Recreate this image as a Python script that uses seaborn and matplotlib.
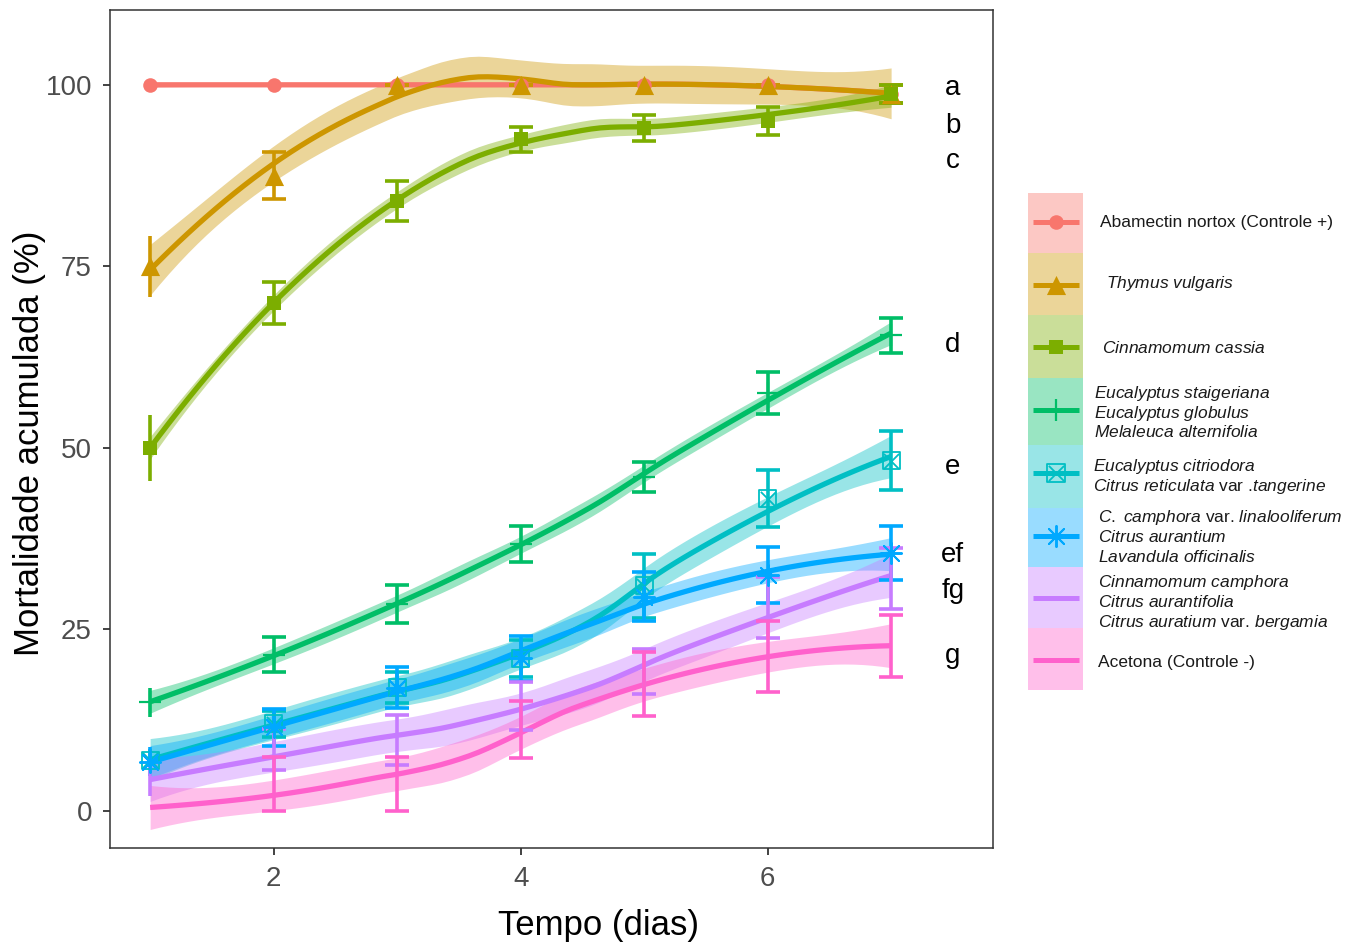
import math
import numpy as np
import pandas as pd
import matplotlib
matplotlib.use("Agg")
import matplotlib.pyplot as plt
import seaborn as sns
from matplotlib.patches import Rectangle
from matplotlib.lines import Line2D

sns.set_theme(style="white")
plt.rcParams["font.family"] = ["Liberation Sans", "DejaVu Sans"]
plt.rcParams["mathtext.fontset"] = "custom"
plt.rcParams["mathtext.rm"] = "Liberation Sans"
plt.rcParams["mathtext.it"] = "Liberation Sans:italic"

# ---------------------------------------------------------------- dados
dias = [1, 2, 3, 4, 5, 6, 7]

# mortalidade média acumulada (%) por tratamento
abamectin = [100, 100, 100, 100, 100, 100, 98.75]
thymus = [75, 87.5, 100, 100, 100, 100, 98.75]
cassia = [50, 70, 84, 92.5, 94, 95, 98.75]
eucalyptus = [15, 21.5, 28.5, 36.75, 46, 57.5, 65.5]
citriodora = [7, 12, 17, 21, 31, 43, 48.25]
camphora_lin = [6.75, 11.5, 17, 21, 29.5, 32.5, 35.5]
camphora = [4, 8.5, 9.75, 14.5, 19.25, 28, 32]
acetona = [0, 3.75, 3.75, 11.25, 17.5, 21.25, 22.75]

# erro padrão da média
abamectin_ep = [0, 0, 0, 0, 0, 0, 1.25]
thymus_ep = [4.2, 3.2, 0, 0, 0, 0, 1.25]
cassia_ep = [4.5, 2.9, 2.7, 1.75, 1.8, 1.9, 1.25]
eucalyptus_ep = [2, 2.4, 2.6, 2.5, 2.1, 2.9, 2.4]
citriodora_ep = [1.5, 1.8, 2.2, 2.5, 4.4, 3.9, 4.1]
camphora_lin_ep = [2, 2.5, 2.8, 3.1, 3.4, 3.8, 3.7]
camphora_ep = [2, 2.8, 3.4, 3.3, 3.1, 4.2, 4.2]
acetona_ep = [0, 3.75, 3.75, 3.9, 4.4, 4.9, 4.3]

medias = [abamectin, thymus, cassia, eucalyptus, citriodora,
          camphora_lin, camphora, acetona]
erros = [abamectin_ep, thymus_ep, cassia_ep, eucalyptus_ep, citriodora_ep,
         camphora_lin_ep, camphora_ep, acetona_ep]

cores = ["#F8766D", "#CD9600", "#7CAE00", "#00BE67",
         "#00BFC4", "#00A9FF", "#C77CFF", "#FF61CC"]
marcadores = ["circulo", "triangulo", "quadrado", "mais", "quadrado_x",
              "asterisco", None, None]

rotulos = [
    ["Abamectin nortox (Controle +)"],
    [r"$\mathit{Thymus\ vulgaris}$"],
    [r"$\mathit{Cinnamomum\ cassia}$"],
    [r"$\mathit{Eucalyptus\ staigeriana}$", r"$\mathit{Eucalyptus\ globulus}$",
     r"$\mathit{Melaleuca\ alternifolia}$"],
    [r"$\mathit{Eucalyptus\ citriodora}$",
     r"$\mathit{Citrus\ reticulata}$ var .$\mathit{tangerine}$"],
    [r"$\mathit{C.\ camphora}$ var. $\mathit{linalooliferum}$",
     r"$\mathit{Citrus\ aurantium}$", r"$\mathit{Lavandula\ officinalis}$"],
    [r"$\mathit{Cinnamomum\ camphora}$", r"$\mathit{Citrus\ aurantifolia}$",
     r"$\mathit{Citrus\ auratium}$ var. $\mathit{bergamia}$"],
    ["Acetona (Controle -)"],
]

letras = ["a", "b", "c", "d", "e", "ef", "fg", "g"]
letras_y = [99.5, 94.3, 89.5, 64.1, 47.4, 35.2, 30.3, 21.3]


# ---------------------------------------------------------------- loess
def loess_pesos(x, x_aval, span=0.75):
    """Matriz de pesos do ajuste local quadrático (vizinhança tricúbica)."""
    n = len(x)
    q = int(np.floor(n * span))
    L = np.zeros((len(x_aval), n))
    for k, x0 in enumerate(x_aval):
        d = np.abs(x - x0)
        ds = np.sort(d)
        h = (ds[q - 1] + ds[q]) / 2 if q < n else ds[-1]
        w = np.clip(1 - (d / h) ** 3, 0, None) ** 3
        X = np.column_stack([np.ones(n), x - x0, (x - x0) ** 2])
        XtW = X.T * w
        L[k] = np.linalg.solve(XtW @ X, XtW)[0]
    return L


def suavizar(x, y, grade, z=1.96):
    x = np.asarray(x, float)
    y = np.asarray(y, float)
    n = len(x)
    Lf = loess_pesos(x, x)
    resid = y - Lf @ y
    M = np.eye(n) - Lf
    d1 = np.trace(M.T @ M)
    sigma = math.sqrt(resid @ resid / d1)
    Lg = loess_pesos(x, grade)
    ajuste = Lg @ y
    ep = sigma * np.sqrt((Lg ** 2).sum(axis=1))
    return ajuste, ajuste - z * ep, ajuste + z * ep


# ---------------------------------------------------------------- figura
W, H = 1359, 946
fig = plt.figure(figsize=(W / 100, H / 100), dpi=100)
fig.patch.set_facecolor("white")
ax = fig.add_axes([110 / W, 1 - 848 / H, (993 - 110) / W, (848 - 10) / H])
ax.set_facecolor("white")

grade = np.linspace(min(dias), max(dias), 80)

# curvas suavizadas com intervalo de confiança
for media, cor in zip(medias, cores):
    ajuste, inf, sup = suavizar(dias, media, grade)
    ax.fill_between(grade, inf, sup, color=cor, alpha=0.4, linewidth=0,
                    zorder=2)
    sns.lineplot(x=grade, y=ajuste, color=cor, linewidth=3.8, ax=ax,
                 zorder=3, solid_capstyle="butt")

# barras de erro
for media, ep, cor in zip(medias, erros, cores):
    ax.errorbar(dias[1:], media[1:], yerr=ep[1:], fmt="none", ecolor=cor,
                elinewidth=2.6, capsize=8.5, capthick=2.6, zorder=4)
    if ep[0] > 0:
        ax.errorbar(dias[:1], media[:1], yerr=ep[:1], fmt="none", ecolor=cor,
                    elinewidth=2.6, capsize=0, zorder=4)


def desenhar_marcador(alvo, x, y, tipo, cor, escala=1.0):
    if tipo is None:
        return
    kw = dict(x=x, y=y, ax=alvo, legend=False, zorder=5, color=cor)
    if tipo == "circulo":
        sns.scatterplot(marker="o", s=110 * escala, linewidth=0, **kw)
    elif tipo == "triangulo":
        sns.scatterplot(marker="^", s=190 * escala, linewidth=0, **kw)
    elif tipo == "quadrado":
        sns.scatterplot(marker="s", s=90 * escala, linewidth=0, **kw)
    elif tipo == "mais":
        sns.scatterplot(marker="+", s=260 * escala, linewidth=1.6, **kw)
    elif tipo == "quadrado_x":
        sns.scatterplot(marker="s", s=150 * escala, facecolor="none",
                        edgecolor=cor, linewidth=1.3, x=x, y=y, ax=alvo,
                        legend=False, zorder=5)
        sns.scatterplot(marker="x", s=120 * escala, linewidth=1.3, **kw)
    elif tipo == "asterisco":
        sns.scatterplot(marker=(8, 2, 0), s=230 * escala, linewidth=1.4,
                        edgecolor=cor, **kw)


for media, cor, tipo in zip(medias, cores, marcadores):
    desenhar_marcador(ax, dias, media, tipo, cor)

# letras de significância
for letra, yl in zip(letras, letras_y):
    ax.text(7.5, yl, letra, fontsize=20, ha="center", va="center",
            color="black", zorder=6)

ax.set_xlim(0.675, 7.825)
ax.set_ylim(-5.1, 110.3)
ax.set_xticks([2, 4, 6])
ax.set_yticks([0, 25, 50, 75, 100])
ax.tick_params(axis="both", which="major", length=5, width=1.3,
               color="#333333", labelsize=20, labelcolor="#4D4D4D", pad=8,
               bottom=True, left=True)
for sp in ax.spines.values():
    sp.set_color("#333333")
    sp.set_linewidth(1.1)
ax.grid(False)
ax.set_xlabel("")
ax.set_ylabel("")

fig.text(598 / W, 1 - 925 / H, "Tempo (dias)", fontsize=25, ha="center",
         va="center", color="black")
fig.text(30 / W, 1 - 443 / H, "Mortalidade acumulada (%)", fontsize=25,
         ha="center", va="center", rotation=90, color="black")

# ---------------------------------------------------------------- legenda
lg = fig.add_axes([0, 0, 1, 1], facecolor="none")
lg.set_xlim(0, W)
lg.set_ylim(H, 0)
lg.axis("off")

limites = [193, 253, 315, 378, 445, 508, 567, 628, 690]
centros = [222, 285, 347, 410, 473, 536, 598, 660]
texto_x = [1100, 1106, 1102, 1094, 1093, 1098, 1098, 1098]
linhas_y = [[222], [283], [348], [393, 413, 432], [466, 486],
            [517, 537, 557], [582, 602, 622], [662]]

for i, cor in enumerate(cores):
    lg.add_patch(Rectangle((1028, limites[i]), 55, limites[i + 1] - limites[i],
                           facecolor=cor, alpha=0.4, linewidth=0))
    lg.add_line(Line2D([1033, 1079], [centros[i], centros[i]], color=cor,
                       linewidth=3.6, solid_capstyle="butt"))
    desenhar_marcador(lg, [1056], [centros[i]], marcadores[i], cor, escala=1.0)
    for txt, yt in zip(rotulos[i], linhas_y[i]):
        lg.text(texto_x[i], yt, txt, fontsize=12.5, ha="left", va="center",
                color="#1A1A1A")

fig.savefig("out.png", dpi=100, facecolor="white")
